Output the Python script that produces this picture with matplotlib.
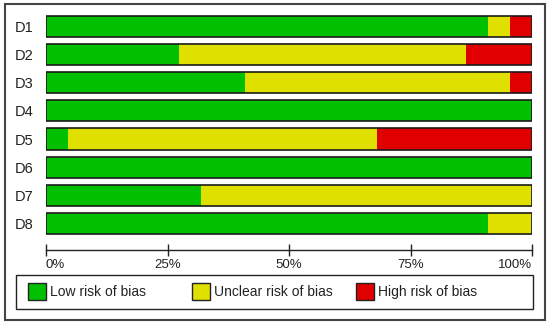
import matplotlib.pyplot as plt
from matplotlib.patches import Rectangle

plt.rcParams['font.family'] = ['Liberation Sans', 'DejaVu Sans']

# risk of bias per domain (percent of studies)
domains = ["D1", "D2", "D3", "D4", "D5", "D6", "D7", "D8"]
low = [90.9, 27.3, 40.9, 100, 4.5, 100, 31.8, 90.9]
unclear = [4.5, 59.1, 54.6, 0, 63.7, 0, 68.2, 9.1]
high = [4.6, 13.6, 4.5, 0, 31.8, 0, 0, 0]
ticks = [0, 25, 50, 75, 100]
tick_labels = ["0%", "25%", "50%", "75%", "100%"]
legend_labels = ["Low risk of bias", "Unclear risk of bias", "High risk of bias"]

green = "#00c000"
yellow = "#e0e000"
red = "#e00000"

W, H = 550, 325
fig = plt.figure(figsize=(5.5, 3.25), dpi=100)

# background / frame axes in pixel coordinates
bg = fig.add_axes([0, 0, 1, 1])
bg.set_xlim(0, W)
bg.set_ylim(H, 0)
bg.axis('off')
bg.add_patch(Rectangle((5, 4), 540, 316, fill=False, ec="#444444", lw=1.5))
bg.add_patch(Rectangle((16, 275), 517, 34, fill=False, ec="#222222", lw=1.0))

# legend entries, drawn by hand like the original
leg_x = [28, 192, 356]
for lx, col, lab in zip(leg_x, [green, yellow, red], legend_labels):
    bg.add_patch(Rectangle((lx, 283), 18, 17, fc=col, ec="#222222", lw=1.0))
    bg.text(lx + 22, 292, lab, fontsize=10, ha='left', va='center', color="#222222")

# main bar axes
left, right = 46, 532
top, bottom = 12, 250
ax = fig.add_axes([left / W, 1 - bottom / H, (right - left) / W, (bottom - top) / H])
ax.patch.set_alpha(0)

y = list(range(len(domains)))
ax.barh(y, low, height=0.75, color=green, lw=0)
ax.barh(y, unclear, left=low, height=0.75, color=yellow, lw=0)
starts = [a + b for a, b in zip(low, unclear)]
ax.barh(y, high, left=starts, height=0.75, color=red, lw=0)
ax.barh(y, [100] * len(domains), height=0.75, fill=False, edgecolor="#1a1a1a", lw=1.2)

ax.set_xlim(0, 100)
ax.set_ylim(7 + 26.5 / 28, -14.5 / 28)
for s in ['top', 'right', 'left']:
    ax.spines[s].set_visible(False)
ax.spines['bottom'].set_color("#222222")
ax.spines['bottom'].set_linewidth(1.0)

ax.set_yticks(y)
ax.set_yticklabels(domains, fontsize=10.5, color="#222222")
ax.tick_params(axis='y', length=0, pad=9)

ax.set_xticks(ticks)
ax.set_xticklabels(tick_labels, fontsize=9.5, color="#222222")
ax.tick_params(axis='x', direction='inout', length=9, width=1.0, color="#222222", pad=2)
xl = ax.get_xticklabels()
xl[0].set_ha('left')
xl[-1].set_ha('right')

fig.savefig("out.png", dpi=100)
